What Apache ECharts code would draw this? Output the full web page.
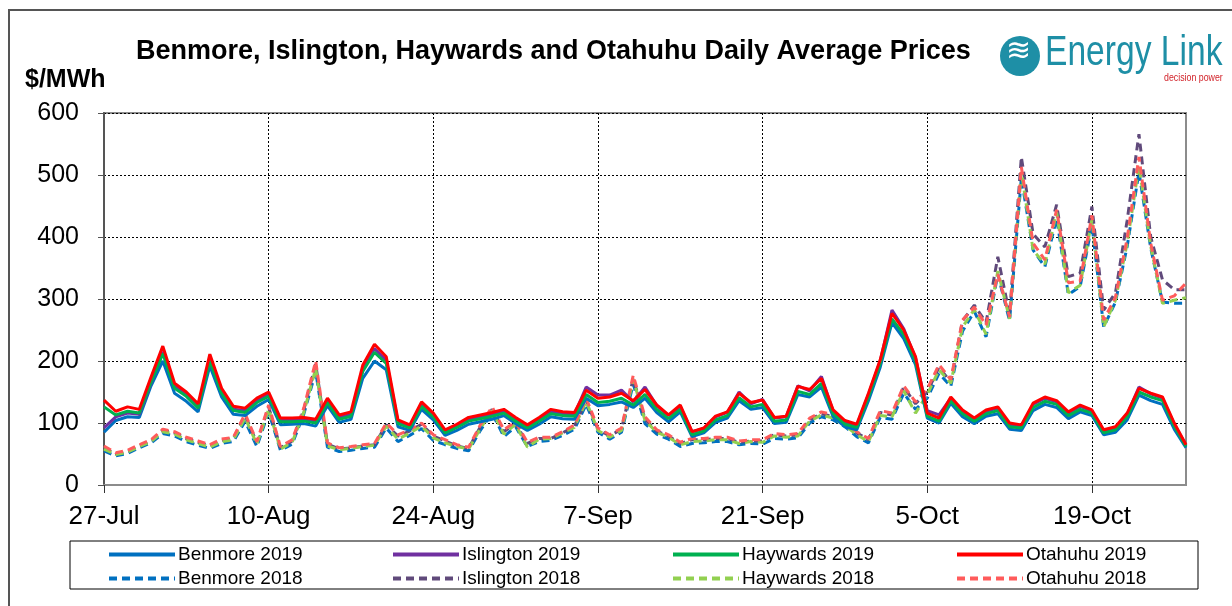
<!DOCTYPE html>
<html>
<head>
<meta charset="utf-8">
<script src="https://cdn.jsdelivr.net/npm/echarts@6/dist/echarts.min.js"></script>
<style>
  html, body { margin: 0; padding: 0; background: #fff; }
  #chart { width: 1232px; height: 606px; }
</style>
</head>
<body>
<div id="chart"></div>
<script>
// daily categories 27-Jul .. 27-Oct
var months = [['Jul', 27, 31], ['Aug', 1, 31], ['Sep', 1, 30], ['Oct', 1, 27]];
var days = [];
months.forEach(function (m) {
    for (var d = m[1]; d <= m[2]; d++) days.push(d + '-' + m[0]);
});

var benmore2019 = [85,104,110,109,160,200,148,135,118,192,142,114,112,127,138,97,98,99,95,128,101,106,172,200,186,94,88,122,105,80,88,98,102,106,112,99,88,98,110,107,106,140,128,130,134,125,140,117,102,118,78,84,101,108,136,122,125,99,101,146,142,158,110,94,89,136,190,262,236,194,108,100,132,110,99,111,115,90,88,120,130,125,107,118,112,81,85,105,145,136,130,90,60];
var islington2019 = [92,110,116,114,165,215,160,147,126,204,152,122,120,136,146,104,104,105,102,136,109,114,186,220,201,101,94,131,113,86,95,106,110,114,119,106,95,106,119,115,114,158,145,145,153,134,158,128,112,127,86,91,110,117,150,131,138,108,110,160,152,175,119,102,96,146,200,282,252,205,120,113,140,119,106,119,124,97,95,130,140,134,116,127,119,87,92,114,158,147,140,98,64];
var haywards2019 = [126,113,119,116,166,212,156,143,124,200,148,120,117,133,143,102,102,103,100,133,106,111,183,214,196,99,92,127,110,84,93,103,107,111,116,103,92,103,115,112,111,146,133,135,140,129,146,122,107,122,81,87,105,112,141,126,130,103,105,151,146,164,115,98,93,142,196,268,243,200,111,103,136,115,103,115,120,94,92,125,135,130,112,122,116,84,89,110,150,142,136,95,62];
var otahuhu2019 = [137,119,126,122,174,224,164,150,131,211,156,127,124,140,150,108,108,109,106,140,113,118,193,227,207,105,97,134,116,89,98,109,113,117,122,109,97,109,122,118,117,153,140,142,148,136,154,129,113,129,86,92,111,118,148,133,137,109,111,159,154,172,121,104,98,148,202,277,250,207,116,108,142,121,108,121,126,100,97,132,142,136,118,129,121,89,94,116,156,148,142,100,65];

var benmore2018 = [55,47,51,60,68,83,79,70,64,59,67,70,103,62,118,56,66,115,183,61,54,56,59,61,92,70,80,91,72,65,59,55,88,116,78,94,62,70,72,80,90,130,85,74,85,163,99,82,74,62,67,68,70,70,65,67,66,75,74,76,100,110,105,94,78,68,109,106,148,122,140,180,159,248,280,239,340,265,495,379,352,430,307,320,420,255,295,385,505,382,295,293,293];
var islington2018 = [60,50,54,63,71,88,84,75,69,63,72,75,112,68,126,60,71,122,195,66,58,60,63,65,97,79,87,98,79,71,63,59,94,122,86,99,67,75,75,84,95,136,90,79,90,172,106,87,79,67,73,73,75,75,69,71,71,81,79,81,105,115,110,99,84,73,117,113,158,131,150,190,166,265,290,262,368,275,529,405,384,452,336,342,449,282,310,427,566,400,331,315,315];
var haywards2018 = [58,49,53,62,70,86,82,73,67,61,70,73,108,66,122,58,69,118,188,63,57,59,62,64,95,74,84,95,76,68,62,58,91,120,82,98,61,74,75,84,93,135,88,77,88,170,104,85,77,65,70,71,73,73,67,70,69,79,77,79,103,113,108,96,81,70,112,110,152,116,146,186,164,255,283,243,345,268,505,379,356,440,310,322,428,255,298,390,515,385,293,298,302];
var otahuhu2018 = [63,52,56,65,73,90,86,77,71,65,74,77,115,70,129,62,73,125,200,68,60,62,65,67,100,81,89,100,81,73,65,61,97,126,89,102,69,77,77,86,97,140,92,81,92,177,110,89,81,69,75,75,77,77,71,73,73,83,81,83,108,118,113,102,86,75,120,116,160,134,155,194,170,266,287,258,340,271,513,390,363,444,326,329,435,266,303,398,529,390,298,305,326];

var font = 'Arial, "Liberation Sans", sans-serif';

function line(name, data, color, dashed) {
    return {
        name: name,
        type: 'line',
        data: data,
        symbol: 'none',
        smooth: false,
        lineStyle: { color: color, width: 3, type: dashed ? [8, 5] : 'solid' },
        itemStyle: { color: color }
    };
}

function legendCol(left, names) {
    return {
        orient: 'vertical',
        left: left,
        top: 540,
        itemWidth: 66,
        itemHeight: 12,
        itemGap: 5,
        data: names,
        itemStyle: { opacity: 0 },
        lineStyle: { width: 4 },
        textStyle: { fontFamily: font, fontSize: 19, color: '#000', padding: [0, 0, 0, -2] }
    };
}

var myChart = echarts.init(document.getElementById('chart'));

var option = {
    animation: false,
    backgroundColor: '#fff',
    title: {
        text: 'Benmore, Islington, Haywards and Otahuhu Daily Average Prices',
        left: 131,
        top: 33,
        textStyle: { fontFamily: font, fontSize: 27, fontWeight: 'bold', color: '#000' }
    },
    grid: {
        left: 104, right: 46, top: 113, bottom: 121,
        show: true, borderColor: '#8c8c8c', borderWidth: 2
    },
    legend: [
        legendCol(102, ['Benmore 2019', 'Benmore 2018']),
        legendCol(386, ['Islington 2019', 'Islington 2018']),
        legendCol(666, ['Haywards 2019', 'Haywards 2018']),
        legendCol(950, ['Otahuhu 2019', 'Otahuhu 2018'])
    ],
    xAxis: {
        type: 'category',
        data: days,
        boundaryGap: false,
        axisLine: { lineStyle: { color: '#8c8c8c', width: 2 } },
        axisTick: { interval: 13, length: 8, lineStyle: { color: '#333' } },
        axisLabel: { interval: 13, margin: 19, fontFamily: font, fontSize: 26, color: '#000' },
        splitLine: { show: true, interval: 13, lineStyle: { color: '#000', type: [2, 2], width: 1 } }
    },
    yAxis: {
        type: 'value',
        min: 0, max: 600, interval: 100,
        axisLine: { show: true, lineStyle: { color: '#555', width: 2 } },
        axisTick: { show: true, length: 6, lineStyle: { color: '#555' } },
        axisLabel: { margin: 25, fontFamily: font, fontSize: 25, color: '#000' },
        splitLine: { lineStyle: { color: '#000', type: [2, 2], width: 1 } }
    },
    series: [
        line('Benmore 2018', benmore2018, '#0070C0', true),
        line('Islington 2018', islington2018, '#604A7B', true),
        line('Haywards 2018', haywards2018, '#92D050', true),
        line('Otahuhu 2018', otahuhu2018, '#FF5B5B', true),
        line('Benmore 2019', benmore2019, '#0070C0', false),
        line('Islington 2019', islington2019, '#7030A0', false),
        line('Haywards 2019', haywards2019, '#00B050', false),
        line('Otahuhu 2019', otahuhu2019, '#FF0000', false)
    ],
    graphic: [
        { type: 'rect', shape: { x: 9, y: 10, width: 1240, height: 620 },
          style: { fill: null, stroke: '#555', lineWidth: 2 }, silent: true },
        { type: 'rect', shape: { x: 70, y: 541, width: 1128, height: 48 },
          style: { fill: null, stroke: '#000', lineWidth: 1 }, silent: true },
        { type: 'text', left: 25, top: 68,
          style: { text: '$/MWh', fontFamily: font, fontSize: 25, fontWeight: 'bold', fill: '#000' } },
        // Energy Link logo
        { type: 'circle', shape: { cx: 1020, cy: 56, r: 20 }, style: { fill: '#1E8FA6' } },
        { type: 'text', left: 1006, top: 37,
          style: { text: '≋', fontFamily: font, fontSize: 30, fill: '#fff' } },
        { type: 'text', x: 1045, y: 32, scaleX: 0.8,
          style: { text: 'Energy Link', fontFamily: font, fontSize: 42, fill: '#1E8FA6' } },
        { type: 'text', x: 1164, y: 72, scaleX: 0.8,
          style: { text: 'decision power', fontFamily: font, fontSize: 11, fill: '#D2232A' } }
    ]
};

myChart.setOption(option);
</script>
</body>
</html>
